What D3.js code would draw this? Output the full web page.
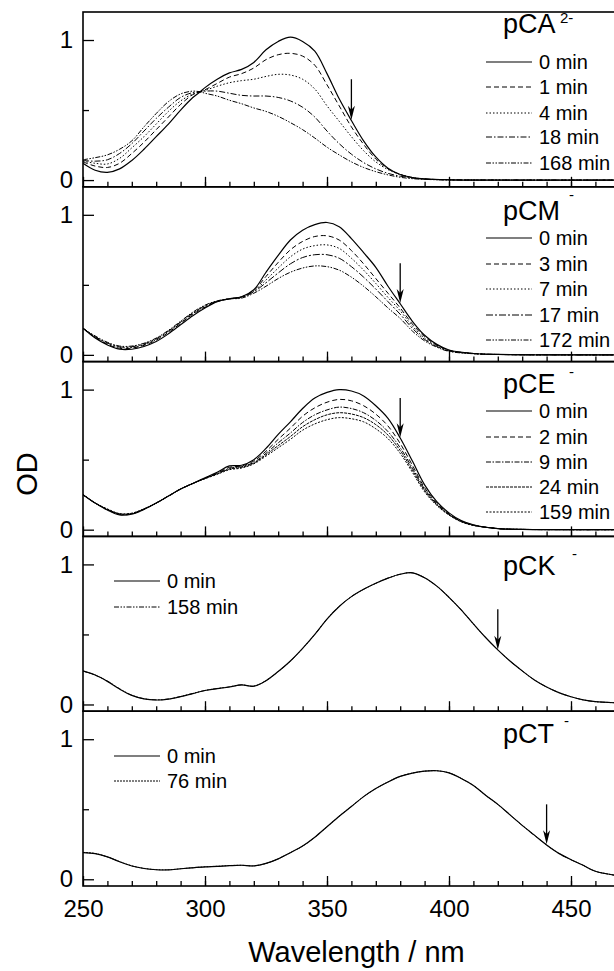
<!DOCTYPE html>
<html>
<head>
<meta charset="utf-8">
<script src="https://cdn.jsdelivr.net/npm/d3@7/dist/d3.min.js"></script>
<style>
  body { margin: 0; background: #fff; }
  text { font-family: "Liberation Sans", Arial, sans-serif; fill: #000; }
</style>
</head>
<body>
<div id="chart"></div>
<script>
// ---- data (OD vs wavelength in nm) ----
var wlA = [250,255,260,265,270,275,280,285,290,295,298,300,305,310,315,320,325,330,335,340,345,350,355,360,365,370,375,380,385,390,400,420,475];
var pCA_0   = [0.12,0.07,0.055,0.08,0.14,0.22,0.31,0.40,0.50,0.59,0.63,0.66,0.72,0.765,0.79,0.84,0.93,0.99,1.02,0.99,0.92,0.76,0.58,0.425,0.28,0.165,0.085,0.04,0.018,0.008,0.002,0,0];
var pCA_1   = [0.13,0.10,0.09,0.12,0.19,0.27,0.36,0.45,0.54,0.61,0.63,0.645,0.69,0.735,0.76,0.80,0.86,0.895,0.905,0.885,0.82,0.68,0.53,0.38,0.255,0.15,0.08,0.04,0.018,0.008,0.002,0,0];
var pCA_4   = [0.135,0.12,0.115,0.155,0.23,0.31,0.40,0.49,0.565,0.615,0.63,0.64,0.67,0.695,0.71,0.72,0.74,0.755,0.75,0.72,0.65,0.53,0.42,0.31,0.21,0.13,0.075,0.04,0.018,0.008,0.002,0,0];
var pCA_18  = [0.14,0.135,0.145,0.19,0.26,0.35,0.44,0.52,0.59,0.625,0.63,0.635,0.635,0.62,0.605,0.60,0.60,0.59,0.565,0.52,0.45,0.35,0.26,0.185,0.125,0.08,0.048,0.028,0.015,0.007,0.002,0,0];
var pCA_168 = [0.145,0.16,0.18,0.22,0.28,0.38,0.475,0.56,0.615,0.635,0.63,0.62,0.60,0.57,0.545,0.515,0.49,0.455,0.41,0.36,0.30,0.235,0.18,0.13,0.09,0.06,0.037,0.02,0.01,0.005,0.001,0,0];

var wlM = [250,255,260,265,270,275,280,285,290,295,300,305,310,315,320,325,330,335,340,345,350,355,360,365,370,375,380,385,390,395,400,410,420,475];
var pCM_0   = [0.19,0.12,0.07,0.04,0.04,0.06,0.095,0.15,0.215,0.28,0.335,0.38,0.40,0.415,0.465,0.59,0.71,0.82,0.89,0.93,0.945,0.915,0.83,0.73,0.625,0.49,0.365,0.24,0.14,0.075,0.035,0.01,0.003,0];
var pCM_3   = [0.19,0.125,0.075,0.047,0.048,0.068,0.105,0.16,0.225,0.29,0.34,0.38,0.40,0.415,0.46,0.56,0.66,0.75,0.81,0.845,0.85,0.82,0.745,0.65,0.545,0.44,0.335,0.22,0.13,0.07,0.033,0.01,0.003,0];
var pCM_7   = [0.19,0.128,0.08,0.052,0.053,0.073,0.11,0.165,0.23,0.295,0.345,0.382,0.40,0.413,0.455,0.535,0.62,0.70,0.755,0.78,0.785,0.76,0.69,0.605,0.51,0.41,0.315,0.205,0.12,0.065,0.03,0.01,0.003,0];
var pCM_17  = [0.19,0.13,0.085,0.057,0.058,0.078,0.115,0.17,0.235,0.30,0.35,0.384,0.40,0.41,0.45,0.515,0.585,0.65,0.695,0.715,0.715,0.69,0.63,0.555,0.47,0.38,0.29,0.19,0.11,0.06,0.028,0.009,0.003,0];
var pCM_172 = [0.19,0.135,0.09,0.063,0.063,0.083,0.12,0.175,0.24,0.305,0.355,0.386,0.40,0.405,0.44,0.49,0.545,0.59,0.62,0.635,0.63,0.605,0.555,0.49,0.415,0.335,0.26,0.17,0.10,0.055,0.025,0.008,0.003,0];

var wlE = [250,255,260,265,270,275,280,285,290,295,300,305,310,315,320,325,330,335,340,345,350,355,360,365,370,375,380,385,390,395,400,405,410,420,430,475];
var pCE_0   = [0.25,0.19,0.14,0.105,0.11,0.145,0.19,0.24,0.29,0.33,0.37,0.41,0.455,0.46,0.50,0.58,0.68,0.77,0.865,0.94,0.98,1.0,0.99,0.955,0.885,0.795,0.655,0.49,0.32,0.20,0.12,0.065,0.035,0.008,0.002,0];
var pCE_2   = [0.25,0.19,0.142,0.108,0.112,0.146,0.19,0.24,0.29,0.33,0.368,0.405,0.445,0.455,0.49,0.56,0.645,0.725,0.81,0.87,0.91,0.93,0.92,0.885,0.825,0.74,0.615,0.46,0.30,0.19,0.113,0.062,0.033,0.008,0.002,0];
var pCE_9   = [0.25,0.19,0.144,0.111,0.114,0.147,0.19,0.24,0.29,0.33,0.366,0.40,0.438,0.45,0.48,0.545,0.62,0.69,0.765,0.82,0.855,0.875,0.865,0.835,0.78,0.70,0.585,0.44,0.29,0.183,0.11,0.06,0.032,0.008,0.002,0];
var pCE_24  = [0.25,0.19,0.146,0.113,0.116,0.148,0.19,0.24,0.29,0.33,0.365,0.398,0.433,0.445,0.475,0.535,0.60,0.665,0.735,0.785,0.82,0.835,0.826,0.80,0.75,0.675,0.565,0.425,0.28,0.178,0.107,0.058,0.031,0.008,0.002,0];
var pCE_159 = [0.25,0.19,0.148,0.115,0.118,0.149,0.19,0.24,0.29,0.33,0.364,0.395,0.428,0.44,0.47,0.525,0.585,0.645,0.71,0.755,0.785,0.80,0.792,0.77,0.72,0.65,0.545,0.41,0.27,0.173,0.104,0.056,0.03,0.008,0.002,0];

var wlKT = [250,255,260,265,270,275,280,285,290,295,300,305,310,315,320,325,330,335,340,345,350,355,360,365,370,375,380,385,390,395,400,405,410,415,420,425,430,435,440,445,450,455,460,475];
var pCK_0   = [0.24,0.21,0.165,0.11,0.065,0.04,0.032,0.038,0.056,0.078,0.10,0.113,0.125,0.14,0.13,0.17,0.235,0.31,0.40,0.50,0.61,0.70,0.77,0.822,0.865,0.902,0.93,0.94,0.905,0.845,0.765,0.675,0.575,0.478,0.39,0.31,0.24,0.175,0.125,0.085,0.055,0.033,0.02,0.008];
var pCK_158 = [0.238,0.21,0.167,0.112,0.066,0.041,0.033,0.039,0.057,0.079,0.10,0.114,0.126,0.14,0.131,0.17,0.235,0.31,0.40,0.50,0.61,0.70,0.77,0.822,0.865,0.902,0.93,0.94,0.905,0.845,0.765,0.675,0.575,0.478,0.39,0.31,0.24,0.175,0.125,0.085,0.055,0.033,0.02,0.008];
var pCT_0   = [0.19,0.183,0.16,0.125,0.095,0.077,0.068,0.067,0.075,0.082,0.088,0.092,0.097,0.10,0.095,0.113,0.146,0.19,0.237,0.30,0.375,0.45,0.52,0.59,0.648,0.695,0.735,0.758,0.772,0.775,0.76,0.72,0.67,0.60,0.535,0.46,0.385,0.315,0.245,0.185,0.14,0.10,0.057,0.012];
var pCT_76  = [0.192,0.184,0.16,0.126,0.096,0.078,0.069,0.068,0.075,0.083,0.089,0.093,0.098,0.10,0.096,0.113,0.146,0.19,0.237,0.30,0.375,0.45,0.52,0.59,0.648,0.695,0.735,0.758,0.772,0.775,0.76,0.72,0.67,0.60,0.535,0.46,0.385,0.315,0.245,0.185,0.14,0.10,0.057,0.012];

// legend labels and arrows (wavelength, OD from, OD to)
var labelsA = ["0 min", "1 min", "4 min", "18 min", "168 min"];
var labelsM = ["0 min", "3 min", "7 min", "17 min", "172 min"];
var labelsE = ["0 min", "2 min", "9 min", "24 min", "159 min"];
var labelsK = ["0 min", "158 min"];
var labelsT = ["0 min", "76 min"];
var arrows = [[360, 0.72, 0.43], [380, 0.655, 0.37], [380, 0.94, 0.66], [420, 0.68, 0.39], [440, 0.535, 0.25]];

// dash styles: solid, dashed, dotted, dash-dot, dash-dot-dot ...
var dashA = [null, "5,3", "1.5,2", "6,2,1.5,2", "5,1.5,1.5,1.5,1.5,1.5"];
var dashM = [null, "5,3", "1.5,2", "7,2,2,2", "5,1.5,1.5,1.5,1.5,1.5"];
var dashE = [null, "5,3", "5,1.5,1.5,1.5", "3,1", "2,1.5"];
var dashK = [null, "5,1.5,1.5,1.5,1.5,1.5"];
var dashT = [null, "2,1"];

var panels = [
    { name: "pCA", sup: "2-", wl: wlA, series: [pCA_0, pCA_1, pCA_4, pCA_18, pCA_168], labels: labelsA, dash: dashA,
      nameY: 33, supX: 560, supY: 23, legX: 486, legY: [62, 87, 113, 137, 163] },
    { name: "pCM", sup: "-", wl: wlM, series: [pCM_0, pCM_3, pCM_7, pCM_17, pCM_172], labels: labelsM, dash: dashM,
      nameY: 220, supX: 569, supY: 200, legX: 486, legY: [238, 264, 289, 315, 340] },
    { name: "pCE", sup: "-", wl: wlE, series: [pCE_0, pCE_2, pCE_9, pCE_24, pCE_159], labels: labelsE, dash: dashE,
      nameY: 393, supX: 569, supY: 377, legX: 486, legY: [411, 437, 462, 487, 512] },
    { name: "pCK", sup: "-", wl: wlKT, series: [pCK_0, pCK_158], labels: labelsK, dash: dashK,
      nameY: 575, supX: 572, supY: 559, legX: 114, legY: [581, 607] },
    { name: "pCT", sup: "-", wl: wlKT, series: [pCT_0, pCT_76], labels: labelsT, dash: dashT,
      nameY: 743, supX: 564, supY: 726, legX: 114, legY: [756, 781] }
];

var width = 614, height = 971;
var left = 83, top0 = 12, panelH = 174.8;
var right = left + 225 * 2.44;

var svg = d3.select("#chart").append("svg")
    .attr("width", width)
    .attr("height", height);

var x = d3.scaleLinear().domain([250, 475]).range([left, right]);

var line = d3.line().curve(d3.curveCatmullRom.alpha(0.5));

panels.forEach(function (p, i) {
    var top = top0 + i * panelH;
    var y = d3.scaleLinear().domain([-0.048, 1.2]).range([top + panelH, top]);
    var g = svg.append("g");

    g.append("clipPath").attr("id", "clip" + i)
        .append("rect")
        .attr("x", left).attr("y", top)
        .attr("width", right - left).attr("height", panelH);

    // spectra
    g.append("g").attr("clip-path", "url(#clip" + i + ")")
        .selectAll("path")
        .data(p.series)
        .enter()
        .append("path")
        .attr("d", function (s) { return line(s.map(function (v, k) { return [x(p.wl[k]), y(v)]; })); })
        .attr("fill", "none")
        .attr("stroke", "#000")
        .attr("stroke-width", function (s, k) { return k === 0 ? 1.2 : 1; })
        .attr("stroke-dasharray", function (s, k) { return p.dash[k]; });

    // bottom ticks pointing inward
    var minor = g.append("g").attr("transform", "translate(0," + (top + panelH) + ")")
        .call(d3.axisBottom(x).tickValues(d3.range(260, 475, 10)).tickSize(-5).tickFormat(""));
    var major = g.append("g").attr("transform", "translate(0," + (top + panelH) + ")")
        .call(d3.axisBottom(x).tickValues([250, 300, 350, 400, 450]).tickSize(-10).tickPadding(14)
            .tickFormat(i === panels.length - 1 ? d3.format("d") : ""));
    major.selectAll("text").style("font-size", "24px");

    // left ticks
    var yMaj = g.append("g").attr("transform", "translate(" + left + ",0)")
        .call(d3.axisLeft(y).tickValues([0, 1]).tickSize(-11).tickPadding(10).tickFormat(d3.format("d")));
    yMaj.selectAll("text").style("font-size", "24px");
    var yMin = g.append("g").attr("transform", "translate(" + left + ",0)")
        .call(d3.axisLeft(y).tickValues([0.5]).tickSize(-6).tickFormat(""));

    [minor, major, yMaj, yMin].forEach(function (a) {
        a.select(".domain").remove();
        a.selectAll("line").attr("stroke", "#000").attr("stroke-width", 1.3);
    });

    // frame
    g.append("rect")
        .attr("x", left).attr("y", top)
        .attr("width", right - left).attr("height", panelH)
        .attr("fill", "none")
        .attr("stroke", "#000")
        .attr("stroke-width", 1.6);

    // species label with superscript charge
    g.append("text").attr("x", 503).attr("y", p.nameY)
        .style("font-size", "27px").text(p.name);
    g.append("text").attr("x", p.supX).attr("y", p.supY)
        .style("font-size", "15px").text(p.sup);

    // legend
    var leg = g.selectAll(".leg").data(p.labels).enter().append("g");
    leg.append("line")
        .attr("x1", p.legX).attr("x2", p.legX + 46)
        .attr("y1", function (d, k) { return p.legY[k]; })
        .attr("y2", function (d, k) { return p.legY[k]; })
        .attr("stroke", "#000")
        .attr("stroke-width", function (d, k) { return k === 0 ? 1.2 : 1; })
        .attr("stroke-dasharray", function (d, k) { return p.dash[k]; });
    leg.append("text")
        .attr("x", p.legX + 53)
        .attr("y", function (d, k) { return p.legY[k] + 7; })
        .style("font-size", "20px")
        .text(function (d) { return d; });

    // arrow showing the direction of change
    var a = arrows[i];
    var ax = x(a[0]), y1 = y(a[1]), y2 = y(a[2]);
    g.append("line")
        .attr("x1", ax).attr("x2", ax)
        .attr("y1", y1).attr("y2", y2 - 4)
        .attr("stroke", "#000").attr("stroke-width", 1.3);
    g.append("path")
        .attr("d", "M" + ax + "," + y2 + "L" + (ax - 3.5) + "," + (y2 - 14) + "L" + ax + "," + (y2 - 10) + "L" + (ax + 3.5) + "," + (y2 - 14) + "Z")
        .attr("fill", "#000");
});

// axis titles
svg.append("text")
    .attr("x", (left + right) / 2 - 1)
    .attr("y", 962)
    .attr("text-anchor", "middle")
    .style("font-size", "29px")
    .text("Wavelength / nm");

svg.append("text")
    .attr("transform", "translate(37,474) rotate(-90)")
    .attr("text-anchor", "middle")
    .style("font-size", "29px")
    .text("OD");
</script>
</body>
</html>
